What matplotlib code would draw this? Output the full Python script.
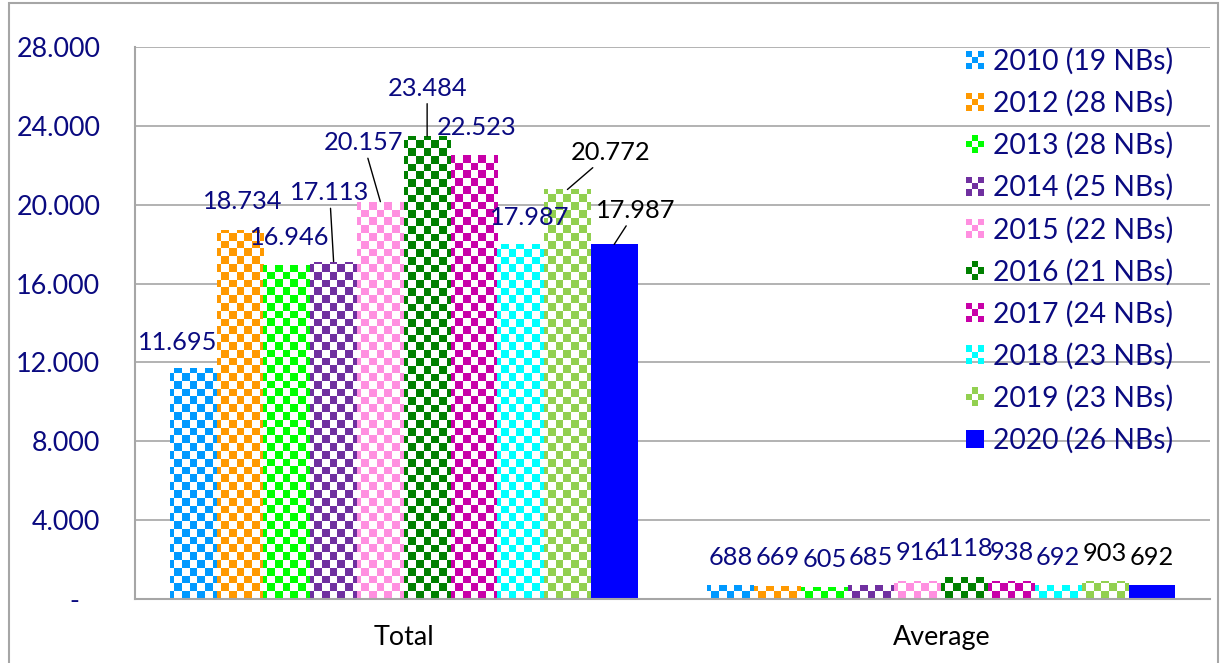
import numpy as np
import matplotlib.pyplot as plt
from matplotlib.patches import Rectangle, Patch
from matplotlib.legend_handler import HandlerBase
from matplotlib.colors import to_rgba

plt.rcParams['font.family'] = ['Lato', 'DejaVu Sans']

# data
groups = ['Total', 'Average']
series = ['2010 (19 NBs)', '2012 (28 NBs)', '2013 (28 NBs)', '2014 (25 NBs)',
          '2015 (22 NBs)', '2016 (21 NBs)', '2017 (24 NBs)', '2018 (23 NBs)',
          '2019 (23 NBs)', '2020 (26 NBs)']
totals = [11695, 18734, 16946, 17113, 20157, 23484, 22523, 17987, 20772, 17987]
averages = [688, 669, 605, 685, 916, 1118, 938, 692, 903, 692]

# styles
colors = ['#0099ff', '#ff9900', '#00ff00', '#7030a0', '#ff8fe0',
          '#008000', '#c800a8', '#00ffff', '#92d050', '#0000ff']
patterns = ['checker', 'checker', 'ring', 'checker', 'checker',
            'ring', 'checker', 'checker', 'ring', 'solid']
navy = '#0a0a80'
label_colors = [navy] * 8 + ['black', 'black']
# label offsets (pixels) from bar top for the Total group, and leader lines
total_offsets = [(-16, 26), (3, 28), (3, 27), (-4, 69), (-17, 59),
                 (0, 48), (3, 27), (9, 27), (43, 37), (22, 34)]
total_leaders = [False, False, False, True, True, True, False, False, True, True]
fs_tick = 19.4
fs_val = 18.3
fs_leg = 20.3

W, H = 1221, 663
fig = plt.figure(figsize=(W / 100, H / 100), dpi=100)
ax = fig.add_axes([135 / W, 1 - 599 / H, (1210 - 135) / W, (599 - 47) / H])

# outer chart border
fig.patches.append(Rectangle((9 / W, -0.05), (1218 - 9) / W, 1.05 - 3 / H,
                             transform=fig.transFigure, fill=False,
                             edgecolor='#a6a6a6', lw=1.5))

# checkerboard image covering the axes, clipped to each bar
cell = 7.8
nx = int(round((1210 - 135) / cell))
ny = int(round((599 - 47) / cell))
jj, ii = np.meshgrid(np.arange(nx), np.arange(ny))


def checker(color, phase=0):
    img = np.ones((ny, nx, 4))
    img[(ii + jj) % 2 == phase] = to_rgba(color)
    return img


x = np.arange(len(groups))
n = len(series)
gw = 0.87
bw = gw / n
for i in range(n):
    xs = x - gw / 2 + bw * (i + 0.5)
    vals = [totals[i], averages[i]]
    solid = patterns[i] == 'solid'
    bars = ax.bar(xs, vals, bw, color=colors[i] if solid else 'white',
                  linewidth=0, zorder=2)
    if not solid:
        for b in bars:
            im = ax.imshow(checker(colors[i]), extent=[0, 1, 0, 1],
                           transform=ax.transAxes, interpolation='nearest',
                           aspect='auto', zorder=2.1)
            im.set_clip_path(b)
    # labels
    dx, dy = total_offsets[i]
    arrow = dict(arrowstyle='-', color='black', lw=1, shrinkA=1, shrinkB=0) if total_leaders[i] else None
    ax.annotate(f'{totals[i]:,}'.replace(',', '.'), xy=(xs[0], totals[i]),
                xytext=(dx, dy), textcoords='offset pixels', ha='center',
                va='center', fontsize=fs_val, color=label_colors[i],
                arrowprops=arrow, zorder=5)
    ax.annotate(str(averages[i]), xy=(xs[1], averages[i]), xytext=(0, 28),
                textcoords='offset pixels', ha='center', va='center',
                fontsize=fs_val, color=label_colors[i], zorder=5)


class CheckerHandler(HandlerBase):
    def create_artists(self, legend, orig_handle, xdescent, ydescent,
                       width, height, fontsize, trans):
        color = orig_handle.get_facecolor()
        kind = orig_handle.get_gid()
        x0, y0 = -xdescent, -ydescent
        if kind == 'solid':
            return [Rectangle((x0, y0), width, height, facecolor=color,
                              edgecolor='none', transform=trans)]
        arts = []
        cw, ch = width / 3, height / 3
        for a in range(3):
            for b in range(3):
                on = (a + b) % 2 == (0 if kind == 'checker' else 1)
                if on:
                    arts.append(Rectangle((x0 + a * cw, y0 + b * ch), cw, ch,
                                          facecolor=color, edgecolor='none',
                                          transform=trans))
        return arts


handles = [Patch(facecolor=colors[i], label=series[i], gid=patterns[i]) for i in range(n)]
leg = ax.legend(handles=handles, handler_map={Patch: CheckerHandler()},
                loc='upper left', bbox_to_anchor=(966 / W, 1 - 48 / H),
                bbox_transform=fig.transFigure, frameon=False, fontsize=fs_leg,
                handlelength=0.64, handleheight=0.64, handletextpad=0.32,
                labelspacing=0.54, borderpad=0, borderaxespad=0)
for t in leg.get_texts():
    t.set_color(navy)

# axes
ax.set_xlim(-0.5, 1.5)
ax.set_ylim(0, 28000)
yt = np.arange(0, 28001, 4000)
ax.set_yticks(yt)
ax.set_yticklabels([f'{v:,}'.replace(',', '.') if v else '-   ' for v in yt])
ax.set_xticks(x)
ax.set_xticklabels(groups)
ax.tick_params(axis='y', length=0, pad=25, labelsize=fs_tick, labelcolor=navy)
ax.tick_params(axis='x', length=0, pad=19, labelsize=fs_tick, labelcolor='black')
ax.grid(axis='y', color='#a6a6a6', lw=1.2)
ax.set_axisbelow(True)
for s in ['top', 'right']:
    ax.spines[s].set_visible(False)
for s in ['left', 'bottom']:
    ax.spines[s].set_color('#a6a6a6')
    ax.spines[s].set_linewidth(1.5)

fig.savefig('out.png', dpi=100)
